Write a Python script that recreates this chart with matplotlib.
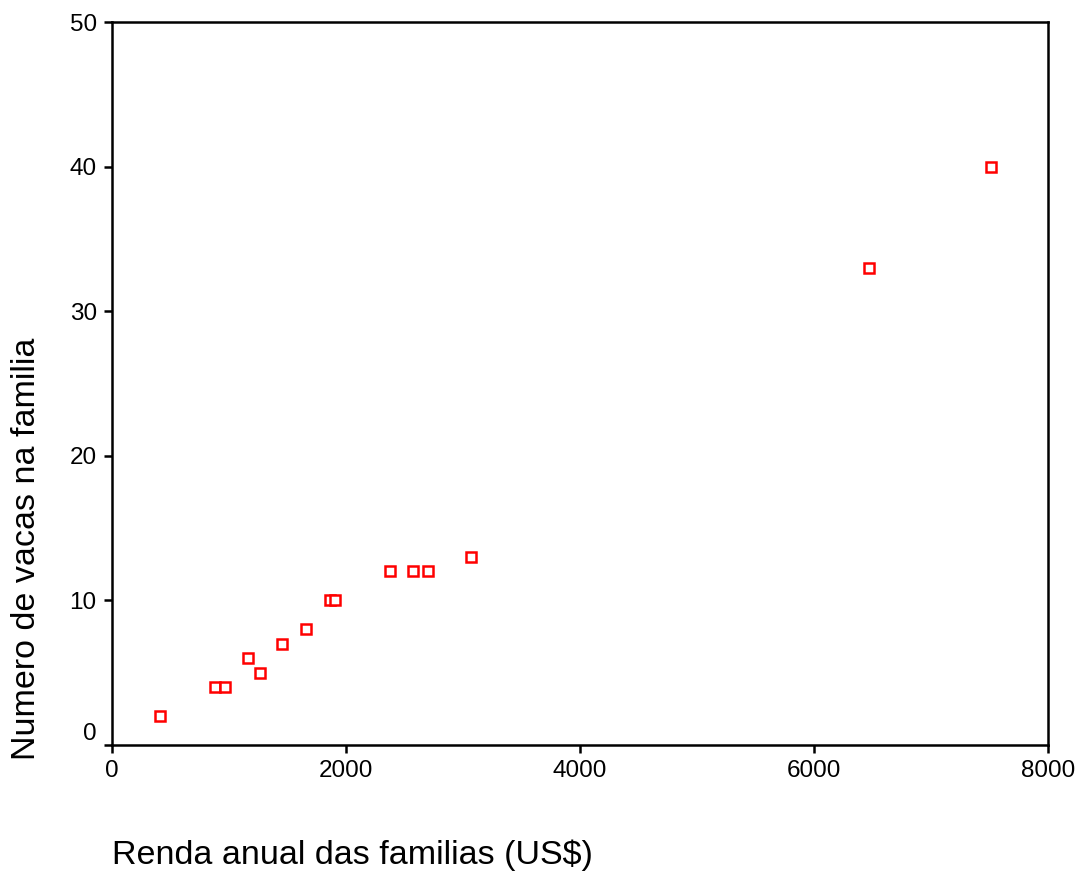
import matplotlib

matplotlib.use("Agg")
import matplotlib.pyplot as plt
import matplotlib.transforms as mtransforms

plt.rcParams["font.family"] = ["Liberation Sans", "DejaVu Sans"]

# annual family income (US$) vs number of cows per family
income = [410, 880, 966, 1165, 1268, 1453, 1658, 1863, 1906, 2373, 2575, 2704, 3068, 6470, 7513]
cows = [2, 4, 4, 6, 5, 7, 8, 10, 10, 12, 12, 12, 13, 33, 40]
x_ticks = [0, 2000, 4000, 6000, 8000]
y_ticks = [0, 10, 20, 30, 40, 50]

fig = plt.figure(figsize=(10.79, 8.71), dpi=100)
ax = fig.add_axes([0.1038, 0.1447, 0.8675, 0.8300])

ax.plot(income, cows, linestyle="none", marker="s", markersize=7,
        markerfacecolor="white", markeredgecolor="#ff0000", markeredgewidth=1.8)

ax.set_xlim(0, 8000)
ax.set_ylim(0, 50)
ax.set_xticks(x_ticks)
ax.set_xticklabels([str(t) for t in x_ticks])
ax.set_yticks(y_ticks)
ax.set_yticklabels([str(t) for t in y_ticks])
ax.tick_params(direction="out", length=6, width=1.8, labelsize=17.5, pad=5)

for s in ax.spines.values():
    s.set_linewidth(1.8)

# the "0" on the y axis sits a little above the corner
lab0 = ax.get_yticklabels()[0]
lab0.set_transform(lab0.get_transform()
                   + mtransforms.ScaledTranslation(0, 13 / 100, fig.dpi_scale_trans))

fig.text(112 / 1079, 1 - 855 / 871, "Renda anual das familias (US$)",
         fontsize=24.5, ha="left", va="center")
fig.text(27 / 1079, 1 - 549 / 871, "Numero de vacas na familia",
         fontsize=24.5, ha="center", va="center", rotation=90)

fig.savefig("out.png", dpi=100)
plt.close(fig)
